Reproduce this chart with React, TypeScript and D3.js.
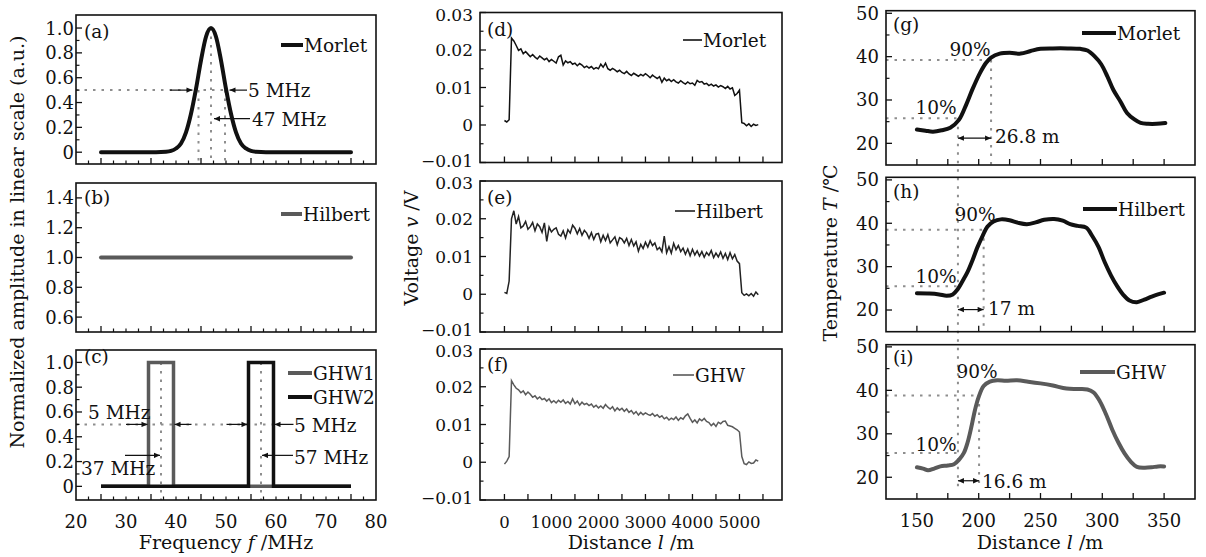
import React from 'react';
import * as d3 from 'd3';

// ---------------- data ----------------
// (a) Morlet spectrum
const morletFreq = [25, 36, 38, 39, 40, 41, 42, 43, 44, 45, 46, 47, 48, 49, 50, 51, 52, 53, 54, 55, 56, 58, 75];
const morletAmp = [0, 0, 0.003, 0.01, 0.03, 0.07, 0.16, 0.31, 0.51, 0.74, 0.93, 1.0, 0.93, 0.74, 0.51, 0.31, 0.16, 0.07, 0.03, 0.01, 0.003, 0, 0];
// (b) Hilbert spectrum
const hilbertFreq = [25, 75];
const hilbertAmp = [1, 1];
// (c) GHW spectra
const ghw1Freq = [25, 34.5, 34.5, 39.5, 39.5, 75];
const ghw1Amp = [0, 0, 1, 1, 0, 0];
const ghw2Freq = [25, 54.5, 54.5, 59.5, 59.5, 75];
const ghw2Amp = [0, 0, 1, 1, 0, 0];

// (d)-(f) voltage traces (mV), sampled every 50 m from 0 to 5400 m
const distanceM = d3.range(0, 5401, 50);
const voltMorlet = [
  1.2, 0.8, 1.4, 23.2, 22.4, 21.2, 19.9, 20.3, 19.0, 19.6, 18.9, 18.2, 18.8, 18.1, 17.6, 18.4, 17.9, 17.4, 17.8, 16.9,
  17.5, 17.0, 16.5, 18.2, 18.6, 16.0, 17.1, 16.6, 16.9, 16.2, 16.5, 15.8, 16.4, 16.0, 15.3, 15.7, 15.2, 15.6, 14.9, 15.3,
  15.0, 16.2, 15.4, 16.5, 15.0, 14.6, 15.1, 14.7, 14.2, 14.6, 14.0, 13.7, 14.3, 13.6, 13.2, 13.8, 13.4, 13.0, 13.5, 13.1,
  13.7, 13.2, 12.6, 13.3, 12.8, 12.4, 12.9, 11.4, 12.5, 11.8, 12.2, 11.6, 12.1, 11.5, 11.2, 11.8, 11.3, 10.9, 11.5, 11.0,
  11.2, 10.6, 11.9, 11.4, 11.6, 10.9, 11.1, 10.5, 10.9, 10.4, 10.7, 10.1, 10.5, 10.2, 9.7, 10.3, 9.6, 9.9, 7.9, 8.4,
  9.3, 0.6, 0.4, -0.2, 0.3, -0.4, 0.2, -0.1, 0.1,
];
const voltHilbert = [
  0.5, 0.2, 3.5, 20.0, 22.1, 18.6, 20.6, 17.6, 18.1, 19.3, 17.2, 17.9, 19.0, 16.8, 18.6, 17.9, 16.4, 18.9, 14.0, 17.8,
  16.5, 17.2, 17.6, 15.9, 15.4, 16.8, 14.9, 17.1, 16.2, 18.3, 17.5, 16.0, 17.4, 15.6, 16.9, 16.2, 14.8, 16.3, 14.5, 15.9,
  16.1, 13.9, 15.6, 14.2, 15.8, 13.6, 14.4, 15.2, 13.1, 15.0, 14.6, 13.6, 14.8, 12.9, 14.5, 12.8, 13.9, 11.4, 13.2, 12.1,
  13.8, 12.5, 14.2, 12.9, 13.6, 11.8, 12.4, 11.2, 15.4, 11.0, 12.6, 10.9, 13.5, 11.8, 12.9, 11.3, 12.2, 10.6, 12.0, 10.2,
  11.9, 10.4, 11.5, 10.1, 11.3, 9.8, 11.1, 10.3, 11.6, 9.7, 10.9, 9.9, 11.2, 9.5, 10.8, 9.2, 11.0, 9.4, 10.5, 8.8,
  8.1, 0.4, -0.3, 0.1, -0.4, 0.2, -0.5, 0.6, -0.1,
];
const voltGHW = [
  -0.5, 0.3, 1.5, 21.6, 20.5, 19.6, 19.2, 18.4, 18.9, 17.9, 18.6, 18.0, 17.2, 17.6, 16.8, 17.3, 16.6, 16.9, 16.2, 16.8,
  15.8, 16.3, 15.7, 16.4, 15.9, 16.5, 15.6, 16.1, 15.4, 16.8, 15.5, 16.2, 15.1, 15.9, 15.3, 15.6, 15.0, 15.4, 14.6, 15.1,
  14.4, 14.9, 14.3, 15.3, 14.6, 14.1, 14.7, 13.6, 14.4, 13.8, 14.3, 13.5, 14.1, 13.2, 13.7, 12.8, 13.4, 12.5, 13.2, 12.6,
  13.1, 12.7, 12.4, 12.9, 12.2, 12.6, 11.9, 12.3, 11.5, 11.9, 11.2, 11.7, 11.3, 12.0, 11.1, 11.8, 11.4, 12.3, 12.8, 11.6,
  10.6, 11.2, 10.4, 11.5, 11.0, 11.6, 10.8, 10.5, 9.7, 10.3, 9.5, 10.6, 10.2, 10.8, 10.9, 9.8, 9.6, 9.4, 9.0, 8.6,
  8.0, 1.5, -0.4, -0.6, 0.1, -0.3, -0.2, 0.6, 0.3,
];

// (g)-(i) temperature profiles
const tempDistMorlet = [150, 157, 163, 170, 177, 184, 190, 195, 201, 206, 210, 217, 225, 234, 242, 250, 260, 272, 282, 288, 294, 299, 304, 309, 315, 320, 326, 331, 337, 344, 351];
const tempMorlet = [23.2, 22.9, 22.7, 23.0, 23.6, 25.4, 29.0, 32.5, 36.2, 38.6, 39.8, 40.7, 40.9, 40.7, 41.3, 41.8, 41.9, 41.9, 41.8, 41.4, 40.0, 38.3, 35.5, 32.3, 29.5, 27.0, 25.5, 24.7, 24.5, 24.5, 24.7];
const tempDistHilbert = [150, 160, 168, 174, 179, 183, 187, 191, 195, 199, 203, 207, 212, 218, 225, 232, 239, 246, 253, 261, 268, 274, 280, 287, 292, 297, 302, 307, 312, 317, 322, 328, 334, 340, 345, 350];
const tempHilbert = [23.85, 23.8, 23.6, 23.3, 23.6, 24.8, 26.7, 28.8, 31.5, 34.5, 37.0, 39.2, 40.4, 40.9, 40.7, 40.1, 39.8, 40.2, 40.8, 41.0, 40.6, 39.8, 39.4, 39.0, 37.0, 34.5, 31.0, 28.0, 25.5, 23.5, 22.2, 21.8, 22.4, 23.1, 23.6, 24.0];
const tempDistGHW = [150, 155, 159, 164, 169, 175, 180, 184, 188, 191, 194, 197, 200, 204, 209, 215, 222, 231, 240, 250, 260, 271, 280, 288, 293, 298, 303, 308, 313, 318, 323, 328, 334, 340, 345, 350];
const tempGHW = [22.3, 22.0, 21.6, 22.0, 22.5, 22.7, 23.0, 24.0, 25.6, 28.0, 31.5, 35.5, 38.5, 41.0, 42.0, 42.3, 42.2, 42.3, 42.0, 41.6, 41.1, 40.4, 40.3, 40.2, 39.5, 37.5, 34.5, 31.0, 28.0, 25.5, 23.6, 22.4, 22.2, 22.3, 22.5, 22.5];

// ticks
const freqLabels = [20, 30, 40, 50, 60, 70, 80];
const freqMajor = [25, 35, 45, 55, 65, 75];
const freqMinor = [22.5, 27.5, 30, 32.5, 37.5, 40, 42.5, 47.5, 50, 52.5, 57.5, 60, 62.5, 67.5, 70, 72.5, 77.5];
const ampLabels = [0, 0.2, 0.4, 0.6, 0.8, 1.0];
const ampMinor = [0.1, 0.3, 0.5, 0.7, 0.9];
const hilbLabels = [0.6, 0.8, 1.0, 1.2, 1.4];
const hilbMinor = [0.7, 0.9, 1.1, 1.3];
const voltLabels = [-0.01, 0, 0.01, 0.02, 0.03];
const voltMinor = [-0.005, 0.005, 0.015, 0.025];
const distLabels = [0, 1000, 2000, 3000, 4000, 5000];
const distTicks = [0, 500, 1000, 1500, 2000, 2500, 3000, 3500, 4000, 4500, 5000, 5500];
const tempLabels = [20, 30, 40, 50];
const tempMinor = [25, 35, 45];
const tdLabels = [150, 200, 250, 300, 350];
const tdTicks = [150, 175, 200, 225, 250, 275, 300, 325, 350];

// ---------------- styling ----------------
const FONT = "'DejaVu Serif', 'Liberation Serif', serif";
const FS = 18.5;
const FS_TICK = 18;
const FS_TITLE = 19;
const BLACK = '#111';
const GRAY = '#5a5a5a';
const DOT = '#8e8e8e';
const DASH = '2.5,6';

type Lin = d3.ScaleLinear<number, number>;

function Axes(p: {
  xs: Lin; ys: Lin; xMajor: number[]; xMinor?: number[]; yMajor: number[]; yMinor?: number[];
  yFmt: (v: number) => string; yGap: number; xLabels?: number[]; xFmt?: (v: number) => string; xSize?: number;
  ySize?: number; yEdgeNudge?: number;
}) {
  const [x0, x1] = p.xs.range();
  const [y0, y1] = p.ys.range();
  const ySize = p.ySize || FS_TICK;
  const nudge = p.yEdgeNudge || 0;
  const last = p.yMajor.length - 1;
  return (
    <g>
      <rect x={x0} y={y1} width={x1 - x0} height={y0 - y1} fill="none" stroke={BLACK} strokeWidth={1.6} />
      {p.xMajor.map((v, i) => (
        <line key={'xM' + i} x1={p.xs(v)} x2={p.xs(v)} y1={y0} y2={y0 - 6} stroke={BLACK} strokeWidth={1.3} />
      ))}
      {(p.xMinor || []).map((v, i) => (
        <line key={'xm' + i} x1={p.xs(v)} x2={p.xs(v)} y1={y0} y2={y0 - 3.5} stroke={BLACK} strokeWidth={1.2} />
      ))}
      {p.yMajor.map((v, i) => (
        <line key={'yM' + i} x1={x0} x2={x0 + 6} y1={p.ys(v)} y2={p.ys(v)} stroke={BLACK} strokeWidth={1.3} />
      ))}
      {(p.yMinor || []).map((v, i) => (
        <line key={'ym' + i} x1={x0} x2={x0 + 3.5} y1={p.ys(v)} y2={p.ys(v)} stroke={BLACK} strokeWidth={1.2} />
      ))}
      {p.yMajor.map((v, i) => (
        <text key={'yl' + i} x={x0 - p.yGap}
          y={p.ys(v) + ySize * 0.36 + (i === 0 ? -nudge : i === last ? nudge : 0)}
          textAnchor="end" fontSize={ySize} fontFamily={FONT} fill={BLACK}>
          {p.yFmt(v)}
        </text>
      ))}
      {(p.xLabels || []).map((v, i) => (
        <text key={'xl' + i} x={p.xs(v)} y={y0 + 27.5} textAnchor="middle" fontSize={p.xSize || FS_TICK} fontFamily={FONT} fill={BLACK}>
          {p.xFmt ? p.xFmt(v) : String(v)}
        </text>
      ))}
    </g>
  );
}

function Txt(p: { x: number; y: number; children: React.ReactNode; anchor?: string; size?: number }) {
  return (
    <text x={p.x} y={p.y} textAnchor={(p.anchor as any) || 'start'} fontSize={p.size || FS} fontFamily={FONT} fill={BLACK}>
      {p.children}
    </text>
  );
}

function Arrow(p: { x1: number; y1: number; x2: number; y2: number; both?: boolean }) {
  return (
    <line x1={p.x1} y1={p.y1} x2={p.x2} y2={p.y2} stroke={BLACK} strokeWidth={1.2}
      markerEnd="url(#ah)" markerStart={p.both ? 'url(#ah)' : undefined} />
  );
}

function Dot(p: { x1: number; y1: number; x2: number; y2: number }) {
  return <line x1={p.x1} y1={p.y1} x2={p.x2} y2={p.y2} stroke={DOT} strokeWidth={2} strokeDasharray={DASH} />;
}

function Legend(p: { x1: number; x2: number; y: number; color: string; width: number; label: string }) {
  return (
    <g>
      <line x1={p.x1} x2={p.x2} y1={p.y} y2={p.y} stroke={p.color} strokeWidth={p.width} />
      <Txt x={p.x2 + 1} y={p.y + 6.5}>{p.label}</Txt>
    </g>
  );
}

function linePath(xs: Lin, ys: Lin, X: number[], Y: number[], curve: d3.CurveFactory) {
  const pts = X.map((x, i) => [x, Y[i]] as [number, number]);
  return d3.line<[number, number]>().x(d => xs(d[0])).y(d => ys(d[1])).curve(curve)(pts) || '';
}

export default function App() {
  // column 1
  const fx = d3.scaleLinear().domain([20, 80]).range([76, 376]);
  const ya = d3.scaleLinear().domain([-0.095, 1.105]).range([164, 15]);
  const yb = d3.scaleLinear().domain([0.5, 1.5]).range([332, 183]);
  const yc = d3.scaleLinear().domain([-0.11, 1.1]).range([500, 350]);
  // column 2
  const dx = d3.scaleLinear().domain([-520, 5905]).range([480, 782]);
  const yd = d3.scaleLinear().domain([-0.01, 0.03]).range([162.5, 12.5]);
  const ye = d3.scaleLinear().domain([-0.01, 0.03]).range([332, 181]);
  const yf = d3.scaleLinear().domain([-0.01, 0.03]).range([500, 349]);
  // column 3
  const tx = d3.scaleLinear().domain([125, 375]).range([886, 1195]);
  const yg = d3.scaleLinear().domain([15, 50.6]).range([165, 10.7]);
  const yh = d3.scaleLinear().domain([15, 50.6]).range([331.7, 177.3]);
  const yi = d3.scaleLinear().domain([15, 50.5]).range([499, 344.7]);

  const fmtAmp = (v: number) => (v === 0 ? '0' : v.toFixed(1));
  const fmtVolt = (v: number) => (v === 0 ? '0' : v < 0 ? '\u2212' + Math.abs(v).toFixed(2) : v.toFixed(2));
  const fmtInt = (v: number) => String(v);

  const vm = voltMorlet.map(v => v / 1000);
  const vh = voltHilbert.map(v => v / 1000);
  const vg = voltGHW.map(v => v / 1000);

  const c1 = { xs: fx, xMajor: freqMajor, xMinor: freqMinor, yGap: 2 };
  const c2 = { xs: dx, xMajor: distTicks, yMajor: voltLabels, yMinor: voltMinor, yFmt: fmtVolt, yGap: 7, ySize: 17, yEdgeNudge: 2 };
  const c3 = { xs: tx, xMajor: tdTicks, yMajor: tempLabels, yMinor: tempMinor, yFmt: fmtInt, yGap: 7 };

  const tenPct = 183.2;

  return (
    <svg width={1206} height={557} style={{ position: 'absolute', left: 0, top: 0, background: '#fff' }}>
      <defs>
        <marker id="ah" viewBox="0 0 10 10" refX={10} refY={5} markerWidth={8} markerHeight={6}
          markerUnits="userSpaceOnUse" orient="auto-start-reverse">
          <path d="M0,0.5 L10,5 L0,9.5 z" fill={BLACK} />
        </marker>
      </defs>
      <rect x={0} y={0} width={1206} height={557} fill="#fff" />

      {/* ---------- column 1 ---------- */}
      {/* (a) */}
      <Dot x1={fx(20)} y1={ya(0.5)} x2={fx(49.8)} y2={ya(0.5)} />
      <Dot x1={fx(44.5)} y1={ya(0.5)} x2={fx(44.5)} y2={164} />
      <Dot x1={fx(47)} y1={ya(1.0)} x2={fx(47)} y2={164} />
      <Dot x1={fx(49.8)} y1={ya(0.5)} x2={fx(49.8)} y2={164} />
      <path d={linePath(fx, ya, morletFreq, morletAmp, d3.curveMonotoneX)} fill="none" stroke={BLACK} strokeWidth={4} strokeLinecap="round" />
      <Axes {...c1} ys={ya} yMajor={ampLabels} yMinor={ampMinor} yFmt={fmtAmp} />
      <Arrow x1={fx(38.8)} y1={ya(0.5)} x2={fx(43.3)} y2={ya(0.5)} />
      <Arrow x1={fx(54.2)} y1={ya(0.5)} x2={fx(50.7)} y2={ya(0.5)} />
      <Txt x={fx(54.4)} y={ya(0.5) + 7}>5 MHz</Txt>
      <Arrow x1={fx(54.8)} y1={ya(0.27)} x2={fx(47.6)} y2={ya(0.27)} />
      <Txt x={fx(55.2)} y={ya(0.27) + 7}>47 MHz</Txt>
      <Txt x={84} y={38}>(a)</Txt>
      <Legend x1={281} x2={303} y={45} color={BLACK} width={4} label="Morlet" />

      {/* (b) */}
      <path d={linePath(fx, yb, hilbertFreq, hilbertAmp, d3.curveLinear)} fill="none" stroke={GRAY} strokeWidth={4} strokeLinecap="round" />
      <Axes {...c1} ys={yb} yMajor={hilbLabels} yMinor={hilbMinor} yFmt={(v) => v.toFixed(1)} />
      <Txt x={84} y={204}>(b)</Txt>
      <Legend x1={281} x2={302} y={214} color={GRAY} width={4} label="Hilbert" />

      {/* (c) */}
      <Dot x1={fx(20)} y1={yc(0.5)} x2={fx(59.5)} y2={yc(0.5)} />
      <Dot x1={fx(37)} y1={yc(1.0)} x2={fx(37)} y2={500} />
      <Dot x1={fx(57)} y1={yc(1.0)} x2={fx(57)} y2={500} />
      <path d={linePath(fx, yc, ghw1Freq, ghw1Amp, d3.curveLinear)} fill="none" stroke={GRAY} strokeWidth={3.5} strokeLinejoin="miter" />
      <path d={linePath(fx, yc, ghw2Freq, ghw2Amp, d3.curveLinear)} fill="none" stroke={BLACK} strokeWidth={3.5} strokeLinejoin="miter" />
      <Axes {...c1} ys={yc} yMajor={ampLabels} yMinor={ampMinor} yFmt={fmtAmp} xLabels={freqLabels} xFmt={fmtInt} />
      <Txt x={88} y={419}>5 MHz</Txt>
      <Arrow x1={fx(30)} y1={yc(0.5)} x2={fx(34.3)} y2={yc(0.5)} />
      <Arrow x1={fx(43.1)} y1={yc(0.5)} x2={fx(39.7)} y2={yc(0.5)} />
      <Arrow x1={fx(50.1)} y1={yc(0.5)} x2={fx(54.3)} y2={yc(0.5)} />
      <Arrow x1={fx(63.5)} y1={yc(0.5)} x2={fx(59.7)} y2={yc(0.5)} />
      <Txt x={fx(63.6)} y={yc(0.5) + 8}>5 MHz</Txt>
      <Arrow x1={fx(29.8)} y1={yc(0.25)} x2={fx(36.8)} y2={yc(0.25)} />
      <Txt x={81} y={475}>37 MHz</Txt>
      <Arrow x1={fx(63.4)} y1={yc(0.25)} x2={fx(57.2)} y2={yc(0.25)} />
      <Txt x={fx(63.6)} y={yc(0.25) + 9}>57 MHz</Txt>
      <Txt x={84} y={363}>(c)</Txt>
      <Legend x1={288} x2={312} y={373} color={GRAY} width={4} label="GHW1" />
      <Legend x1={288} x2={312} y={397} color={BLACK} width={4} label="GHW2" />

      <text transform="translate(24,242) rotate(-90)" textAnchor="middle" fontSize={FS_TITLE} fontFamily={FONT} fill={BLACK}>
        Normalized amplitude in linear scale (a.u.)
      </text>
      <text x={226} y={549} textAnchor="middle" fontSize={FS_TITLE} fontFamily={FONT} fill={BLACK}>
        Frequency <tspan fontStyle="italic">f</tspan> /MHz
      </text>

      {/* ---------- column 2 ---------- */}
      <path d={linePath(dx, yd, distanceM, vm, d3.curveLinear)} fill="none" stroke={BLACK} strokeWidth={1.5} />
      <Axes {...c2} ys={yd} />
      <Txt x={487} y={36}>(d)</Txt>
      <Legend x1={683} x2={702} y={40} color={BLACK} width={1.6} label="Morlet" />

      <path d={linePath(dx, ye, distanceM, vh, d3.curveLinear)} fill="none" stroke="#222" strokeWidth={1.5} />
      <Axes {...c2} ys={ye} />
      <Txt x={487} y={204}>(e)</Txt>
      <Legend x1={675} x2={695} y={211} color="#222" width={1.6} label="Hilbert" />

      <path d={linePath(dx, yf, distanceM, vg, d3.curveLinear)} fill="none" stroke={GRAY} strokeWidth={1.5} />
      <Axes {...c2} ys={yf} xLabels={distLabels} xFmt={fmtInt} xSize={16.5} />
      <Txt x={487} y={371}>(f)</Txt>
      <Legend x1={673} x2={694} y={375} color={GRAY} width={1.6} label="GHW" />

      <text transform="translate(418,248) rotate(-90)" textAnchor="middle" fontSize={FS_TITLE} fontFamily={FONT} fill={BLACK}>
        Voltage <tspan fontStyle="italic">v</tspan> /V
      </text>
      <text x={631} y={549} textAnchor="middle" fontSize={FS_TITLE} fontFamily={FONT} fill={BLACK}>
        Distance <tspan fontStyle="italic">l</tspan> /m
      </text>

      {/* ---------- column 3 ---------- */}
      {/* long 10% guide */}
      <Dot x1={tx(tenPct)} y1={yg(25.8)} x2={tx(tenPct)} y2={yi(17.6)} />
      {/* (g) */}
      <Dot x1={886} y1={yg(39.2)} x2={tx(210)} y2={yg(39.2)} />
      <Dot x1={tx(210)} y1={yg(39.2)} x2={tx(210)} y2={165} />
      <Dot x1={886} y1={yg(25.8)} x2={tx(tenPct)} y2={yg(25.8)} />
      <path d={linePath(tx, yg, tempDistMorlet, tempMorlet, d3.curveCatmullRom)} fill="none" stroke={BLACK} strokeWidth={4} strokeLinecap="round" />
      <Axes {...c3} ys={yg} />
      <Txt x={970} y={56} anchor="middle">90%</Txt>
      <Txt x={936} y={114} anchor="middle">10%</Txt>
      <Arrow x1={tx(tenPct)} y1={yg(21.2)} x2={tx(210)} y2={yg(21.2)} both />
      <Txt x={995} y={143}>26.8 m</Txt>
      <Txt x={893} y={31}>(g)</Txt>
      <Legend x1={1082} x2={1116} y={33} color={BLACK} width={4} label="Morlet" />

      {/* (h) */}
      <Dot x1={886} y1={yh(38.5)} x2={tx(204)} y2={yh(38.5)} />
      <Dot x1={tx(204)} y1={yh(38.5)} x2={tx(204)} y2={331.7} />
      <Dot x1={886} y1={yh(25.5)} x2={tx(tenPct)} y2={yh(25.5)} />
      <path d={linePath(tx, yh, tempDistHilbert, tempHilbert, d3.curveCatmullRom)} fill="none" stroke={BLACK} strokeWidth={4} strokeLinecap="round" />
      <Axes {...c3} ys={yh} />
      <Txt x={975} y={221} anchor="middle">90%</Txt>
      <Txt x={936} y={283} anchor="middle">10%</Txt>
      <Arrow x1={tx(tenPct)} y1={yh(20.1)} x2={tx(204)} y2={yh(20.1)} both />
      <Txt x={988} y={315}>17 m</Txt>
      <Txt x={893} y={198}>(h)</Txt>
      <Legend x1={1083} x2={1117} y={209} color={BLACK} width={4} label="Hilbert" />

      {/* (i) */}
      <Dot x1={886} y1={yi(38.8)} x2={tx(200.3)} y2={yi(38.8)} />
      <Dot x1={tx(200.3)} y1={yi(38.8)} x2={tx(200.3)} y2={yi(17.6)} />
      <Dot x1={886} y1={yi(25.6)} x2={tx(tenPct)} y2={yi(25.6)} />
      <path d={linePath(tx, yi, tempDistGHW, tempGHW, d3.curveCatmullRom)} fill="none" stroke={GRAY} strokeWidth={4} strokeLinecap="round" />
      <Axes {...c3} ys={yi} xLabels={tdLabels} xFmt={fmtInt} />
      <Txt x={977} y={378} anchor="middle">90%</Txt>
      <Txt x={936} y={451} anchor="middle">10%</Txt>
      <Arrow x1={tx(tenPct)} y1={yi(19.2)} x2={tx(200.3)} y2={yi(19.2)} both />
      <Txt x={982} y={488}>16.6 m</Txt>
      <Txt x={893} y={364}>(i)</Txt>
      <Legend x1={1080} x2={1115} y={372} color={GRAY} width={4} label="GHW" />

      <text transform="translate(837,253) rotate(-90)" textAnchor="middle" fontSize={FS_TITLE} fontFamily={FONT} fill={BLACK}>
        Temperature <tspan fontStyle="italic">T</tspan> /℃
      </text>
      <text x={1040} y={549} textAnchor="middle" fontSize={FS_TITLE} fontFamily={FONT} fill={BLACK}>
        Distance <tspan fontStyle="italic">l</tspan> /m
      </text>
    </svg>
  );
}
